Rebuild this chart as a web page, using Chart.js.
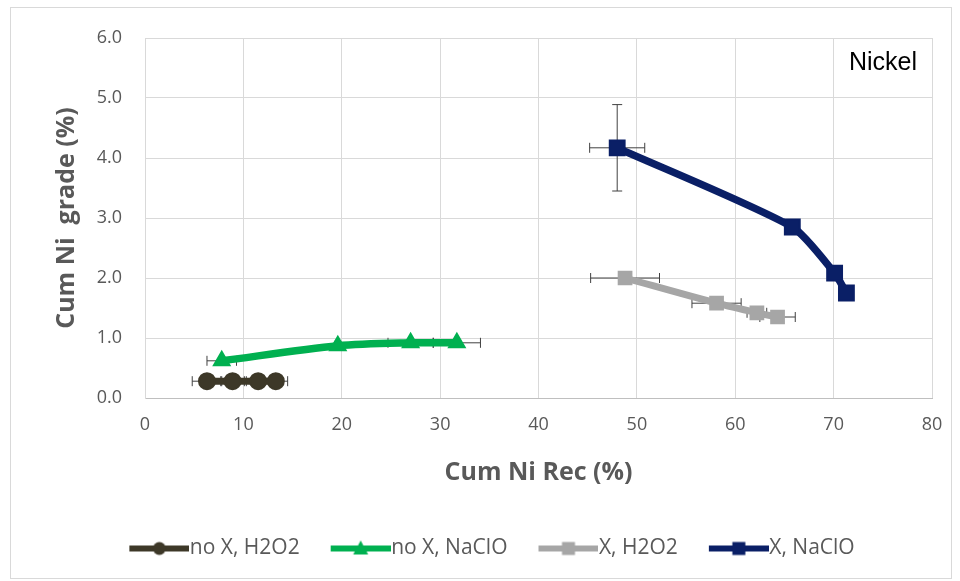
<!DOCTYPE html>
<html>
<head>
<meta charset="utf-8">
<script src="https://cdn.jsdelivr.net/npm/chart.js@4.4.1/dist/chart.umd.min.js"></script>
<style>
  html, body { margin: 0; padding: 0; background: #fff; }
  #wrap { position: relative; width: 960px; height: 581px; }
  #frame { position: absolute; left: 10px; top: 7px; width: 940px; height: 570px; border: 1px solid #d9d9d9; }
  canvas { position: absolute; left: 0; top: 0; }
</style>
</head>
<body>
<div id="wrap">
  <div id="frame"></div>
  <canvas id="chart" width="960" height="581"></canvas>
</div>
<script>
// ===== Data =====
const seriesNames = ["no X, H2O2", "no X, NaClO", "X, H2O2", "X, NaClO"];

// no X, H2O2
const noXH2O2Rec = [6.3, 8.9, 11.5, 13.3];
const noXH2O2Grade = [0.28, 0.28, 0.28, 0.28];
const noXH2O2RecErr = [1.5, 1.2, 1.2, 1.2];
const noXH2O2GradeErr = [0, 0, 0, 0];

// no X, NaClO
const noXNaClORec = [7.8, 19.6, 27.0, 31.7];
const noXNaClOGrade = [0.62, 0.87, 0.92, 0.92];
const noXNaClORecErr = [1.5, 0.3, 2.3, 2.4];
const noXNaClOGradeErr = [0, 0, 0, 0];

// X, H2O2
const xH2O2Rec = [48.8, 58.1, 62.2, 64.3];
const xH2O2Grade = [2.0, 1.58, 1.42, 1.35];
const xH2O2RecErr = [3.5, 2.5, 1.0, 1.8];
const xH2O2GradeErr = [0, 0, 0, 0];

// X, NaClO
const xNaClORec = [48.0, 65.8, 70.1, 71.3];
const xNaClOGrade = [4.17, 2.85, 2.08, 1.75];
const xNaClORecErr = [2.8, 0.3, 0.3, 0.2];
const xNaClOGradeErr = [0.72, 0, 0, 0];

// Axes
const xMin = 0, xMax = 80, xStep = 10;
const yMin = 0, yMax = 6, yStep = 1;
const xTitle = "Cum Ni Rec (%)";
const yTitle = "Cum Ni  grade (%)";
const panelLabel = "Nickel";

const colors = ["#3d3828", "#00b050", "#a6a6a6", "#0a1f66"];

// ===== Helpers =====
function toPoints(xs, ys) {
  return xs.map((x, i) => ({ x: x, y: ys[i] }));
}

function legendIcon(color, style) {
  const c = document.createElement("canvas");
  c.width = 70;
  c.height = 20;
  const g = c.getContext("2d");
  g.strokeStyle = color;
  g.fillStyle = color;
  g.lineWidth = 6;
  g.beginPath();
  g.moveTo(10, 10);
  g.lineTo(70, 10);
  g.stroke();
  const cx = 40, cy = 10;
  g.beginPath();
  if (style === "circle") {
    g.arc(cx, cy, 6.5, 0, Math.PI * 2);
  } else if (style === "triangle") {
    g.moveTo(cx, cy - 8);
    g.lineTo(cx + 7.5, cy + 6);
    g.lineTo(cx - 7.5, cy + 6);
    g.closePath();
  } else {
    g.rect(cx - 6.5, cy - 6.5, 13, 13);
  }
  g.fill();
  return c;
}

const pointStyles = ["circle", "triangle", "rect", "rect"];
const legendIcons = colors.map((c, i) => legendIcon(c, pointStyles[i]));

// ===== Plugins =====
const errorBars = {
  id: "errorBars",
  beforeDatasetsDraw(chart) {
    const { ctx, scales: { x, y } } = chart;
    ctx.save();
    ctx.strokeStyle = "#404040";
    ctx.lineWidth = 1;
    const cap = 5;
    chart.data.datasets.forEach((ds) => {
      ds.data.forEach((p, i) => {
        const px = x.getPixelForValue(p.x);
        const py = y.getPixelForValue(p.y);
        const ex = ds.errX[i];
        const ey = ds.errY[i];
        ctx.beginPath();
        if (ex) {
          const x0 = x.getPixelForValue(p.x - ex);
          const x1 = x.getPixelForValue(p.x + ex);
          ctx.moveTo(x0, py); ctx.lineTo(x1, py);
          ctx.moveTo(x0, py - cap); ctx.lineTo(x0, py + cap);
          ctx.moveTo(x1, py - cap); ctx.lineTo(x1, py + cap);
        }
        if (ey) {
          const y0 = y.getPixelForValue(p.y - ey);
          const y1 = y.getPixelForValue(p.y + ey);
          ctx.moveTo(px, y0); ctx.lineTo(px, y1);
          ctx.moveTo(px - cap, y0); ctx.lineTo(px + cap, y0);
          ctx.moveTo(px - cap, y1); ctx.lineTo(px + cap, y1);
        }
        ctx.stroke();
      });
    });
    ctx.restore();
  },
};

const panelText = {
  id: "panelText",
  afterDraw(chart) {
    const { ctx, chartArea } = chart;
    ctx.save();
    ctx.font = "25px 'Liberation Sans', Arial, sans-serif";
    ctx.fillStyle = "#000";
    ctx.textAlign = "right";
    ctx.textBaseline = "middle";
    ctx.fillText(panelLabel, chartArea.right - 15, chartArea.top + 25);
    ctx.restore();
  },
};

// ===== Chart =====
Chart.defaults.font.family = "'Open Sans', sans-serif";
Chart.defaults.color = "#595959";

function makeSet(i, xs, ys, ex, ey, radius, lineWidth, tension) {
  return {
    label: seriesNames[i],
    data: toPoints(xs, ys),
    errX: ex,
    errY: ey,
    showLine: true,
    borderColor: colors[i],
    backgroundColor: colors[i],
    borderWidth: lineWidth,
    tension: tension,
    pointStyle: pointStyles[i],
    pointRadius: radius,
    pointBorderWidth: 2,
    pointBackgroundColor: colors[i],
    pointBorderColor: colors[i],
  };
}

const ctx = document.getElementById("chart").getContext("2d");
new Chart(ctx, {
  type: "scatter",
  data: {
    datasets: [
      makeSet(0, noXH2O2Rec, noXH2O2Grade, noXH2O2RecErr, noXH2O2GradeErr, 8, 7, 0.3),
      makeSet(1, noXNaClORec, noXNaClOGrade, noXNaClORecErr, noXNaClOGradeErr, 9, 7.5, 0.3),
      makeSet(2, xH2O2Rec, xH2O2Grade, xH2O2RecErr, xH2O2GradeErr, 9, 7, 0.3),
      makeSet(3, xNaClORec, xNaClOGrade, xNaClORecErr, xNaClOGradeErr, 10.5, 7.5, 0.22),
    ],
  },
  options: {
    responsive: false,
    animation: false,
    layout: { padding: { left: 52, right: 28, top: 38, bottom: 12 } },
    scales: {
      x: {
        min: xMin,
        max: xMax,
        afterFit: (s) => { s.height = 109; },
        ticks: { stepSize: xStep, padding: 16, font: { size: 18 }, color: "#595959" },
        grid: { color: "#d9d9d9", drawTicks: false },
        border: { color: "#bfbfbf" },
        title: {
          display: true,
          text: xTitle,
          color: "#595959",
          font: { size: 25, weight: "bold" },
          padding: { top: 0, bottom: 19 },
        },
      },
      y: {
        min: yMin,
        max: yMax,
        afterFit: (s) => { s.width = 93; },
        ticks: {
          stepSize: yStep,
          padding: 23,
          font: { size: 18 },
          color: "#595959",
          callback: (v) => v.toFixed(1),
        },
        grid: { color: "#d9d9d9", drawTicks: false },
        border: { color: "#d9d9d9" },
        title: {
          display: true,
          text: yTitle,
          color: "#595959",
          font: { size: 25, weight: "bold" },
          padding: { top: 0, bottom: 0 },
        },
      },
    },
    plugins: {
      tooltip: { enabled: false },
      legend: {
        position: "bottom",
        labels: {
          usePointStyle: true,
          pointStyleWidth: 50,
          padding: 31,
          color: "#595959",
          font: { size: 21 },
          generateLabels(chart) {
            const items = Chart.defaults.plugins.legend.labels.generateLabels(chart);
            items.forEach((it, i) => {
              it.pointStyle = legendIcons[i];
              it.rotation = 0;
            });
            return items;
          },
        },
      },
    },
  },
  plugins: [errorBars, panelText],
});
</script>
</body>
</html>
